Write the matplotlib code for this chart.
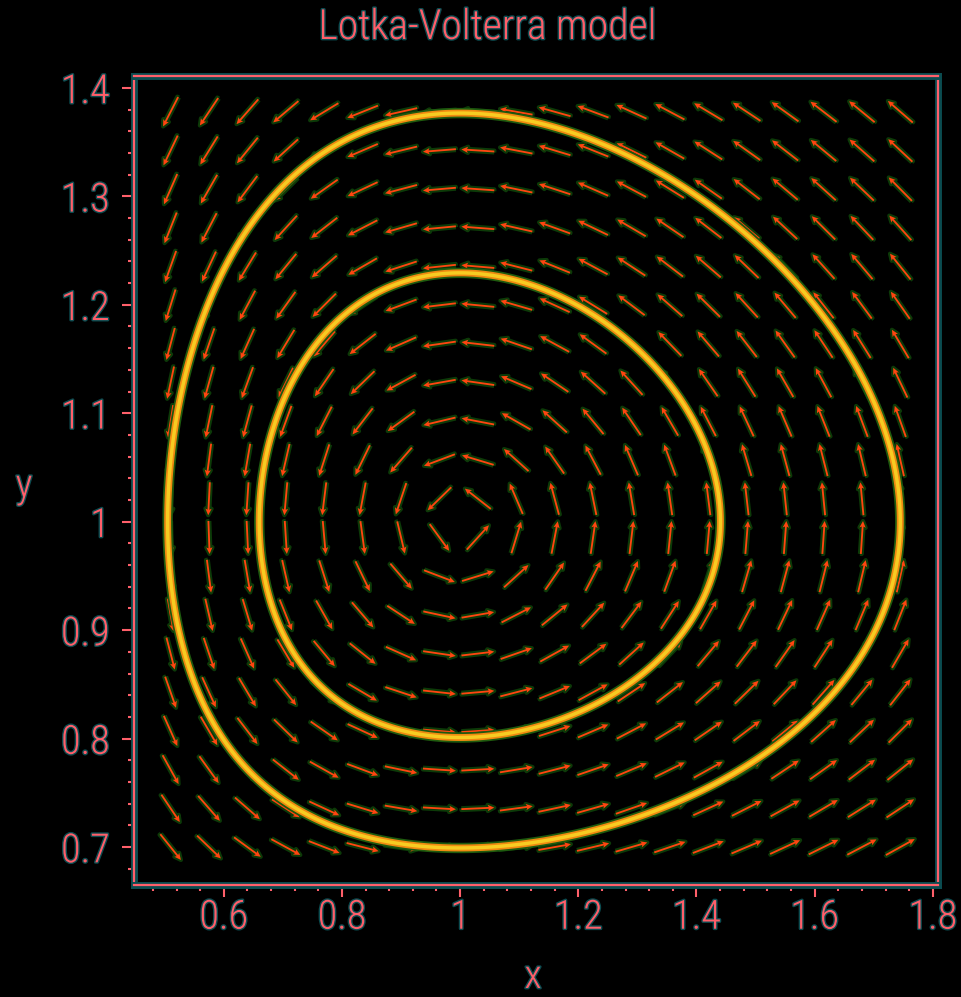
import numpy as np
import matplotlib
matplotlib.use('Agg')
import matplotlib.pyplot as plt
import matplotlib.patheffects as pe
from matplotlib.ticker import MultipleLocator

# Lotka-Volterra model: dx/dt = a*x*(1-y), dy/dt = c*y*(x-1)
a = 3.3
c = 1.0

# grid of the direction field
grid_x = np.linspace(0.51, 1.745, 20)
grid_y = np.linspace(0.70, 1.378, 20)

# each orbit is given by where it crosses y = 1 on its left side
orbit_x0 = [0.660, 0.505]

xlim = (0.448, 1.808)
ylim = (0.665, 1.411)
xticks = [0.6, 0.8, 1.0, 1.2, 1.4, 1.6, 1.8]
xticklabels = ['0.6', '0.8', '1', '1.2', '1.4', '1.6', '1.8']
yticks = [0.7, 0.8, 0.9, 1.0, 1.1, 1.2, 1.3, 1.4]
yticklabels = ['0.7', '0.8', '0.9', '1', '1.1', '1.2', '1.3', '1.4']

pink = '#ff5f6a'
teal = '#0b4c50'
fonts = ['Roboto Condensed', 'DejaVu Sans Condensed', 'Liberation Sans Narrow', 'DejaVu Sans']
plt.rcParams['font.family'] = fonts
plt.rcParams['font.stretch'] = 'condensed'
plt.rcParams['font.weight'] = 'light'
glow = [pe.withStroke(linewidth=2, foreground=teal)]
fs = 29

fig = plt.figure(figsize=(9.61, 9.97), dpi=100, facecolor='black')
ax = fig.add_axes([0.1394, 0.1123, 0.8362, 0.8115], facecolor='black')
ax.set_xlim(*xlim)
ax.set_ylim(*ylim)

# direction field, every arrow the same length on screen (L pixels)
X, Y = np.meshgrid(grid_x, grid_y)
u = a * X * (1 - Y)
v = c * Y * (X - 1)
bb = ax.get_window_extent()
sx = bb.width / (xlim[1] - xlim[0])
sy = bb.height / (ylim[1] - ylim[0])
n = np.hypot(u * sx, v * sy)
L = 33.0
q = ax.quiver(X, Y, L * u / n, L * v / n,
              angles='xy', scale_units='xy', scale=1, pivot='middle',
              color='#ff4510', width=0.0023, headwidth=3.4, headlength=3.6,
              headaxislength=3, zorder=2)
q.set_path_effects([pe.withStroke(linewidth=3, foreground='#0c3a08')])

# orbits = level sets of the conserved quantity
gx = np.linspace(0.45, 1.85, 700)
gy = np.linspace(0.66, 1.42, 700)
GX, GY = np.meshgrid(gx, gy)
H = c * (GX - np.log(GX)) + a * (GY - np.log(GY))
levels = sorted(c * (x0 - np.log(x0)) + a for x0 in orbit_x0)
ax.contour(GX, GY, H, levels=levels, colors='#1e5a0e', linewidths=7.5, zorder=3)
ax.contour(GX, GY, H, levels=levels, colors='#f08a10', linewidths=5, zorder=4)
ax.contour(GX, GY, H, levels=levels, colors='#f6cc22', linewidths=2.5, zorder=5)

# axes styling
for s in ax.spines.values():
    s.set_color(pink)
    s.set_linewidth(1.6)
    s.set_path_effects([pe.withStroke(linewidth=5, foreground=teal)])
    s.set_zorder(6)

ax.set_xticks(xticks)
ax.set_xticklabels(xticklabels)
ax.set_yticks(yticks)
ax.set_yticklabels(yticklabels)
ax.xaxis.set_minor_locator(MultipleLocator(0.04))
ax.yaxis.set_minor_locator(MultipleLocator(0.02))
ax.tick_params(which='major', length=8.5, width=1.5, color=pink, labelcolor=pink,
               labelsize=fs)
ax.tick_params(which='minor', length=4, width=1.5, color=pink)
ax.tick_params(axis='x', which='major', pad=1)
ax.tick_params(axis='y', which='major', pad=9)
for lab in ax.get_xticklabels() + ax.get_yticklabels():
    lab.set_path_effects(glow)

fig.text(0.507, 1 - 39 / 997, 'Lotka-Volterra model', color=pink, fontsize=30,
         ha='center', va='baseline', path_effects=glow)
fig.text(533 / 961, 1 - 988 / 997, 'x', color=pink, fontsize=fs,
         ha='center', va='baseline', path_effects=glow)
fig.text(24 / 961, 1 - 497 / 997, 'y', color=pink, fontsize=fs,
         ha='center', va='baseline', path_effects=glow)

fig.savefig('out.png', dpi=100, facecolor='black')
